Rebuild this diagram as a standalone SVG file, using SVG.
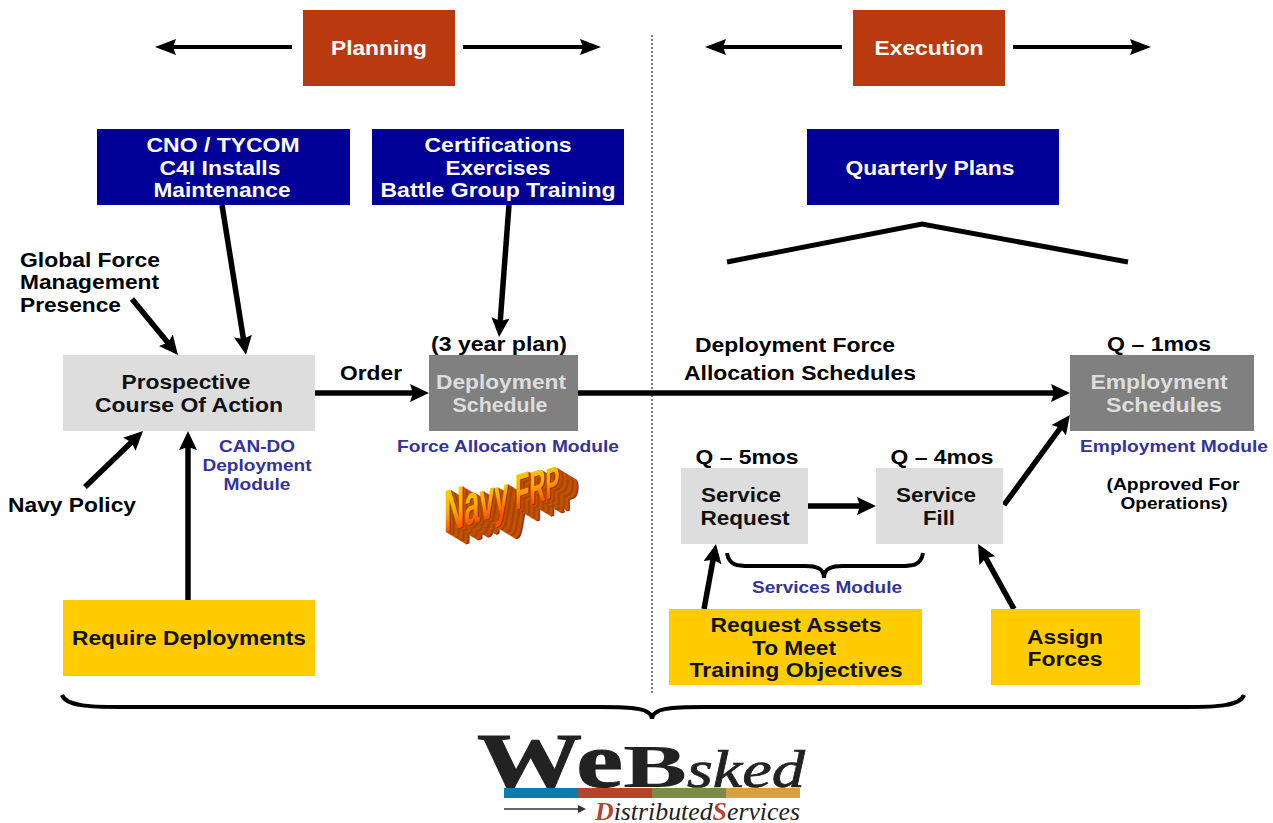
<svg xmlns="http://www.w3.org/2000/svg" width="1273" height="823" viewBox="0 0 1273 823">
<style>
text{font-family:"Liberation Sans",Arial,sans-serif;font-weight:700;text-anchor:middle;font-size:19.5px;fill:#000}
.w{fill:#fff}.d{fill:#111}.m{fill:#333399;font-size:16.5px}
.o{fill:#BA3A10}.b{fill:#000099}.g{fill:#DDDDDD}.k{fill:#808080}.y{fill:#FFCC00}
.a{fill:none;stroke:#000;stroke-width:5.5;marker-end:url(#h)}
.t{fill:none;stroke:#000;stroke-width:4;marker-end:url(#h2)}
.s{fill:none;stroke:#000;stroke-width:4}
.logo{font-family:"Liberation Serif",serif;fill:#222}
.e1{fill:#C25200}.e2{fill:#A84200}.e3{fill:#7E2E00}
</style>
<defs>
<marker id="h" markerUnits="userSpaceOnUse" markerWidth="20" markerHeight="20" refX="9" refY="9" orient="auto"><path d="M0 0L19 9L0 18L3 9Z" fill="#000"/></marker>
<marker id="h2" markerUnits="userSpaceOnUse" markerWidth="22" markerHeight="18" refX="11" refY="8" orient="auto"><path d="M0 0L21 8L0 16L3 8Z" fill="#000"/></marker>
<linearGradient id="fr" gradientUnits="userSpaceOnUse" x1="0" y1="-45" x2="0" y2="0"><stop offset="0" stop-color="#FFD000"/><stop offset=".55" stop-color="#FFB000"/><stop offset="1" stop-color="#FF5000"/></linearGradient>
<text id="nv" transform="translate(444 533) skewY(-18) scale(.47 1)" x="0" y="0" style="text-anchor:start;fill:inherit"><tspan font-size="60" style="font-size:60px">N</tspan><tspan style="font-size:58px">a</tspan><tspan style="font-size:56px">v</tspan><tspan style="font-size:54px">y</tspan><tspan style="font-size:52px"> </tspan><tspan style="font-size:50px">F</tspan><tspan style="font-size:47px">R</tspan><tspan style="font-size:44px">P</tspan></text>
</defs>

<g id="connectors">
<path class="t" d="M292 47H165"/><path class="t" d="M463 47H591"/>
<path class="t" d="M842 47H715"/><path class="t" d="M1013 47H1141"/>
<path d="M652 35V695" fill="none" stroke="#000" stroke-width="1" stroke-dasharray="2 2"/>
<path class="a" d="M222 205L244.4 345"/>
<path class="a" d="M509 205L499.8 327"/>
<path class="a" d="M132 299L171.6 347.3"/>
<path class="a" d="M85 487L135.8 438"/>
<path class="a" d="M188 600V441"/>
<path class="a" d="M315 393H419"/>
<path class="a" d="M578 393H1060"/>
<path class="a" d="M808 506H866"/>
<path class="a" d="M1004 505L1064 423"/>
<path class="a" d="M704 609L714.2 553.8"/>
<path class="a" d="M1014 609L982.9 552.8"/>
<path d="M727 262L922 224L1128 262" fill="none" stroke="#000" stroke-width="5"/>
<path class="s" d="M727 553C729 566 738 566 750 566H805C816 566 824 568 824 578C824 568 832 566 843 566H900C912 566 921 566 923 553"/>
<path class="s" d="M62 695C66 706 90 707 120 707H600C632 707 652 708 652 719C652 708 672 707 704 707H1186C1216 707 1240 706 1244 695"/>
</g>

<g id="planning"><rect class="o" x="303" y="10" width="152" height="76"/><text class="w" x="379" y="55" textLength="96" lengthAdjust="spacingAndGlyphs">Planning</text></g>
<g id="execution"><rect class="o" x="853" y="10" width="152" height="76"/><text class="w" x="929" y="55" textLength="109" lengthAdjust="spacingAndGlyphs">Execution</text></g>

<g id="cno"><rect class="b" x="97" y="129" width="253" height="76"/>
<text class="w" x="223" y="152" textLength="153" lengthAdjust="spacingAndGlyphs">CNO / TYCOM</text>
<text class="w" x="220" y="175" textLength="121" lengthAdjust="spacingAndGlyphs">C4I Installs</text>
<text class="w" x="222" y="197" textLength="137" lengthAdjust="spacingAndGlyphs">Maintenance</text></g>
<g id="cert"><rect class="b" x="372" y="129" width="252" height="76"/>
<text class="w" x="498" y="152" textLength="147" lengthAdjust="spacingAndGlyphs">Certifications</text>
<text class="w" x="498" y="175" textLength="105" lengthAdjust="spacingAndGlyphs">Exercises</text>
<text class="w" x="498" y="197" textLength="235" lengthAdjust="spacingAndGlyphs">Battle Group Training</text></g>
<g id="quarterly"><rect class="b" x="807" y="129" width="252" height="76"/>
<text class="w" x="930" y="175" textLength="169" lengthAdjust="spacingAndGlyphs">Quarterly Plans</text></g>

<g id="global"><text style="text-anchor:start" x="20" y="267" textLength="140" lengthAdjust="spacingAndGlyphs">Global Force</text>
<text style="text-anchor:start" x="20" y="289" textLength="139" lengthAdjust="spacingAndGlyphs">Management</text>
<text style="text-anchor:start" x="20" y="312" textLength="101" lengthAdjust="spacingAndGlyphs">Presence</text></g>
<g id="navy-policy"><text style="text-anchor:start" x="8" y="512" textLength="128" lengthAdjust="spacingAndGlyphs">Navy Policy</text></g>

<g id="pcoa"><rect class="g" x="63" y="355" width="252" height="76"/>
<text class="d" x="186" y="389" textLength="129" lengthAdjust="spacingAndGlyphs">Prospective</text>
<text class="d" x="189" y="412" textLength="188" lengthAdjust="spacingAndGlyphs">Course Of Action</text></g>
<g id="can-do"><text class="m" x="257" y="452" textLength="76" lengthAdjust="spacingAndGlyphs">CAN-DO</text>
<text class="m" x="257" y="471" textLength="109" lengthAdjust="spacingAndGlyphs">Deployment</text>
<text class="m" x="257" y="490" textLength="67" lengthAdjust="spacingAndGlyphs">Module</text></g>

<g id="order"><text x="371" y="380" textLength="62" lengthAdjust="spacingAndGlyphs">Order</text></g>
<g id="deployment"><text x="499" y="351" textLength="136" lengthAdjust="spacingAndGlyphs">(3 year plan)</text>
<rect class="k" x="429" y="355" width="149" height="76"/>
<text class="g" x="501" y="389" textLength="130" lengthAdjust="spacingAndGlyphs">Deployment</text>
<text class="g" x="500" y="412" textLength="95" lengthAdjust="spacingAndGlyphs">Schedule</text></g>
<g id="fam"><text class="m" x="508" y="452" textLength="222" lengthAdjust="spacingAndGlyphs">Force Allocation Module</text></g>

<g id="navy-frp">
<use href="#nv" x="20" y="12" class="e3"/><use href="#nv" x="19" y="11.4" class="e2"/><use href="#nv" x="18" y="10.8" class="e1"/><use href="#nv" x="17" y="10.2" class="e1"/><use href="#nv" x="16" y="9.6" class="e1"/><use href="#nv" x="15" y="9" class="e2"/><use href="#nv" x="14" y="8.4" class="e2"/><use href="#nv" x="13" y="7.8" class="e1"/><use href="#nv" x="12" y="7.2" class="e1"/><use href="#nv" x="11" y="6.6" class="e1"/><use href="#nv" x="10" y="6" class="e2"/><use href="#nv" x="9" y="5.4" class="e2"/><use href="#nv" x="8" y="4.8" class="e1"/><use href="#nv" x="7" y="4.2" class="e1"/><use href="#nv" x="6" y="3.6" class="e1"/><use href="#nv" x="5" y="3" class="e2"/><use href="#nv" x="4" y="2.4" class="e2"/><use href="#nv" x="3" y="1.8" class="e1"/><use href="#nv" x="2" y="1.2" class="e1"/><use href="#nv" x="1" y=".6" class="e3"/>
<use href="#nv" style="fill:url(#fr)"/>
</g>

<g id="alloc"><text x="795" y="352" textLength="200" lengthAdjust="spacingAndGlyphs">Deployment Force</text>
<text x="800" y="380" textLength="232" lengthAdjust="spacingAndGlyphs">Allocation Schedules</text></g>

<g id="employment"><text x="1159" y="351" textLength="104" lengthAdjust="spacingAndGlyphs">Q – 1mos</text>
<rect class="k" x="1070" y="355" width="184" height="76"/>
<text class="g" x="1159" y="389" textLength="137" lengthAdjust="spacingAndGlyphs">Employment</text>
<text class="g" x="1164" y="412" textLength="116" lengthAdjust="spacingAndGlyphs">Schedules</text></g>
<g id="em"><text class="m" x="1174" y="452" textLength="188" lengthAdjust="spacingAndGlyphs">Employment Module</text>
<text style="font-size:16.5px" x="1173" y="490" textLength="133" lengthAdjust="spacingAndGlyphs">(Approved For</text>
<text style="font-size:16.5px" x="1174" y="509" textLength="107" lengthAdjust="spacingAndGlyphs">Operations)</text></g>

<g id="service-request"><text x="747" y="464" textLength="103" lengthAdjust="spacingAndGlyphs">Q – 5mos</text>
<rect class="g" x="681" y="468" width="127" height="76"/>
<text class="d" x="741" y="502" textLength="80" lengthAdjust="spacingAndGlyphs">Service</text>
<text class="d" x="745" y="525" textLength="89" lengthAdjust="spacingAndGlyphs">Request</text></g>
<g id="service-fill"><text x="942" y="464" textLength="103" lengthAdjust="spacingAndGlyphs">Q – 4mos</text>
<rect class="g" x="876" y="468" width="127" height="76"/>
<text class="d" x="936" y="502" textLength="80" lengthAdjust="spacingAndGlyphs">Service</text>
<text class="d" x="939" y="525" textLength="32" lengthAdjust="spacingAndGlyphs">Fill</text></g>
<g id="services-module"><text class="m" x="827" y="593" textLength="150" lengthAdjust="spacingAndGlyphs">Services Module</text></g>

<g id="require"><rect class="y" x="63" y="600" width="252" height="76"/>
<text class="d" x="189" y="645" textLength="234" lengthAdjust="spacingAndGlyphs">Require Deployments</text></g>
<g id="request-assets"><rect class="y" x="669" y="609" width="253" height="76"/>
<text class="d" x="796" y="632" textLength="171" lengthAdjust="spacingAndGlyphs">Request Assets</text>
<text class="d" x="794" y="655" textLength="84" lengthAdjust="spacingAndGlyphs">To Meet</text>
<text class="d" x="796" y="677" textLength="213" lengthAdjust="spacingAndGlyphs">Training Objectives</text></g>
<g id="assign"><rect class="y" x="991" y="609" width="149" height="76"/>
<text class="d" x="1065" y="644" textLength="76" lengthAdjust="spacingAndGlyphs">Assign</text>
<text class="d" x="1065" y="666" textLength="75" lengthAdjust="spacingAndGlyphs">Forces</text></g>

<g id="websked">
<text class="logo" x="477" y="787" style="text-anchor:start;font-size:78px;stroke:#222;stroke-width:1" textLength="146" lengthAdjust="spacingAndGlyphs">We</text>
<text class="logo" x="623" y="787" style="text-anchor:start;font-size:62px" textLength="64" lengthAdjust="spacingAndGlyphs">B</text>
<text class="logo" x="687" y="787" style="text-anchor:start;font-size:52px;font-style:italic;font-weight:400;stroke:#222;stroke-width:.7" textLength="118" lengthAdjust="spacingAndGlyphs">sked</text>
<rect x="504" y="788" width="74" height="10" fill="#0A7DAE"/><rect x="578" y="788" width="74" height="10" fill="#B5432E"/><rect x="652" y="788" width="74" height="10" fill="#7E8A4B"/><rect x="726" y="788" width="74" height="10" fill="#D6A33A"/>
<path d="M504 809H578" stroke="#333" stroke-width="1.5" fill="none"/><path d="M578 805L586 809L578 813Z" fill="#333"/>
<text class="logo" x="595" y="820" style="text-anchor:start;font-size:25px;font-style:italic;font-weight:400" textLength="205" lengthAdjust="spacingAndGlyphs"><tspan style="fill:#B5432E;font-weight:700">D</tspan>istributed<tspan style="fill:#B5432E;font-weight:700">S</tspan>ervices</text>
</g>
</svg>
